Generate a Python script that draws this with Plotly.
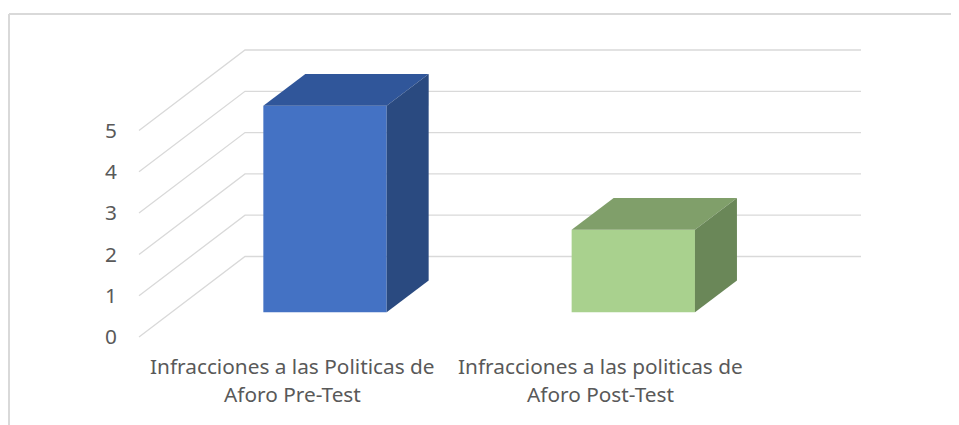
import plotly.graph_objects as go

# ---- data ----
categories = ["Infracciones a las Politicas de<br>Aforo Pre-Test",
              "Infracciones a las politicas de<br>Aforo Post-Test"]
values = [5, 2]
y_ticks = [0, 1, 2, 3, 4, 5]

# ---- style ----
front_colors = ["#4472C4", "#A9D18E"]
top_colors = ["#30569A", "#809F6A"]
side_colors = ["#2A4A80", "#6A8758"]
GRID = "#D9D9D9"
TXT = "#595959"
FONT = "Noto Sans"
FSIZE = 20.8

OFF = 8                      # page body margin
W, H = 959 - OFF, 425 - OFF
X0, XS = 292.0 - OFF, 308.3  # pixel of category 0 (label plane), px per category
Y0, YS = 337.0 - OFF, 41.3   # pixel of value 0 (label plane), px per unit
x_range = [(0 - X0) / XS, (W - X0) / XS]
y_range = [(Y0 - H) / YS, Y0 / YS]

# oblique 3D offsets, in data units
BACK_DX, BACK_DY = 106 / XS, 80.5 / YS
FRONT_DX, FRONT_DY = 33 / XS, 24.7 / YS
DEPTH_DX, DEPTH_DY = 42 / XS, 31.7 / YS
BAR_W = 0.4
WALL_X0 = (139 - OFF - X0) / XS
WALL_X1 = (861 - OFF - X0) / XS

fig = go.Figure()

# front faces of the columns
xs = [i + FRONT_DX for i in range(len(values))]
fig.add_trace(go.Bar(
    x=xs, y=values, base=[FRONT_DY] * len(values), width=BAR_W,
    marker=dict(color=front_colors, line=dict(width=0)),
    hoverinfo="skip", showlegend=False))

# top and side faces
for i, v in enumerate(values):
    xl = xs[i] - BAR_W / 2
    xr = xs[i] + BAR_W / 2
    yb = FRONT_DY
    yt = FRONT_DY + v
    fig.add_trace(go.Scatter(
        x=[xl, xr, xr + DEPTH_DX, xl + DEPTH_DX, xl],
        y=[yt, yt, yt + DEPTH_DY, yt + DEPTH_DY, yt],
        fill="toself", fillcolor=top_colors[i], mode="lines",
        line=dict(width=0, color=top_colors[i]),
        hoverinfo="skip", showlegend=False))
    fig.add_trace(go.Scatter(
        x=[xr, xr, xr + DEPTH_DX, xr + DEPTH_DX, xr],
        y=[yb, yt, yt + DEPTH_DY, yb + DEPTH_DY, yb],
        fill="toself", fillcolor=side_colors[i], mode="lines",
        line=dict(width=0, color=side_colors[i]),
        hoverinfo="skip", showlegend=False))

# gridlines on side wall and back wall
shapes = []
for v in y_ticks:
    shapes.append(dict(
        type="path", xref="x", yref="y", layer="below",
        path=f"M {WALL_X0},{v} L {WALL_X0 + BACK_DX},{v + BACK_DY} L {WALL_X1},{v + BACK_DY}",
        line=dict(color=GRID, width=1.3)))

# chart frame (top and left edges)
FX, FY = 9 - OFF, 14 - OFF
shapes.append(dict(type="line", xref="paper", yref="paper",
                   x0=FX / W, x1=1, y0=1 - FY / H, y1=1 - FY / H,
                   line=dict(color=GRID, width=2)))
shapes.append(dict(type="line", xref="paper", yref="paper",
                   x0=FX / W, x1=FX / W, y0=0, y1=1 - FY / H,
                   line=dict(color=GRID, width=2)))

# category labels
annotations = []
for i, lab in enumerate(categories):
    for j, line in enumerate(lab.split("<br>")):
        annotations.append(dict(
            x=i, xref="x", y=1 - (366 - OFF + 28 * j) / H, yref="paper",
            text=line, showarrow=False, xanchor="center", yanchor="middle",
            font=dict(family=FONT, size=FSIZE, color=TXT)))

fig.update_layout(
    width=W, height=H,
    margin=dict(l=0, r=0, t=0, b=0, pad=0),
    paper_bgcolor="white", plot_bgcolor="white",
    shapes=shapes, annotations=annotations,
    showlegend=False,
    xaxis=dict(range=x_range, showgrid=False, zeroline=False,
               showticklabels=False, showline=False, fixedrange=True),
    yaxis=dict(range=y_range, tickvals=y_ticks, ticktext=[str(t) for t in y_ticks],
               showgrid=False, zeroline=False, showline=False, ticks="",
               anchor="free", position=(117 - OFF) / W, side="left",
               tickfont=dict(family=FONT, size=FSIZE, color=TXT), fixedrange=True),
)

fig.write_html("out.html")
